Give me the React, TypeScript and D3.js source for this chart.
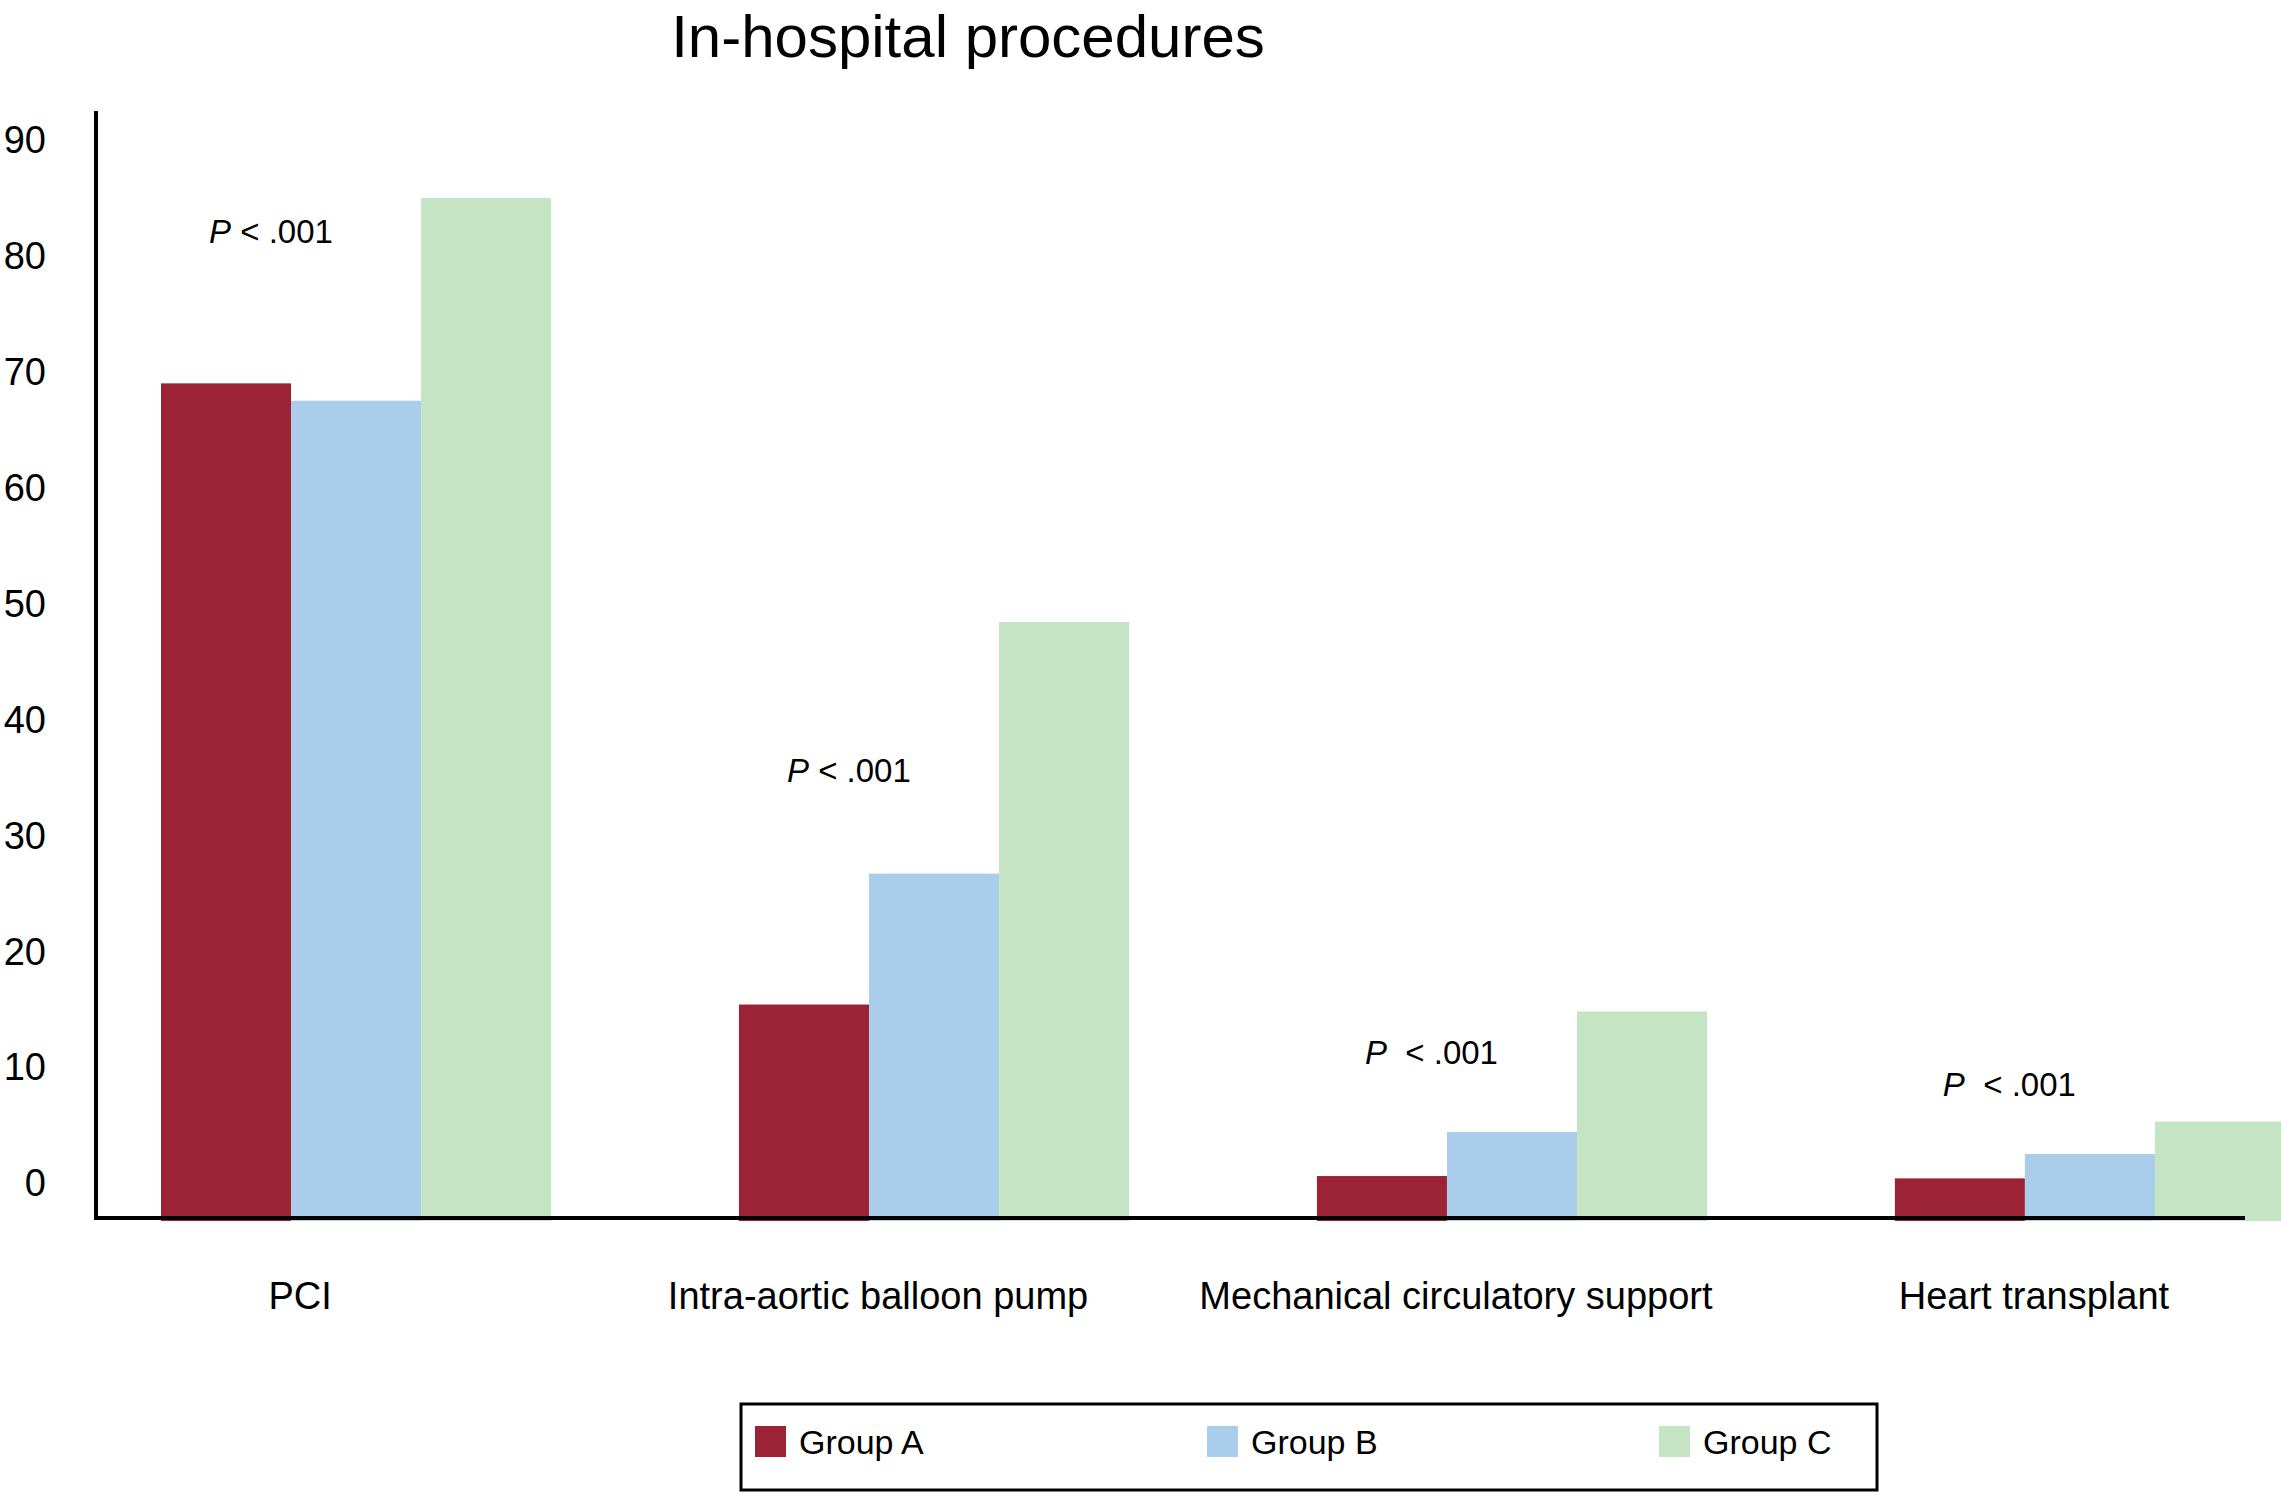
import * as d3 from "d3";

const categories = ["PCI", "Intra-aortic balloon pump", "Mechanical circulatory support", "Heart transplant"];
const groups = ["Group A", "Group B", "Group C"];
const groupA = [69.0, 15.4, 0.6, 0.4];
const groupB = [67.5, 26.7, 4.4, 2.5];
const groupC = [85.0, 48.4, 14.8, 5.3];
const yTicks = [0, 10, 20, 30, 40, 50, 60, 70, 80, 90];
const pLabels = ["P < .001", "P < .001", "P  < .001", "P  < .001"];
const pLabelLevels = [82.1, 35.6, 11.3, 8.5];

const colors = ["#9c2236", "#abcdec", "#c4e4c4"];
const font = "'Liberation Sans', Arial, Helvetica, sans-serif";

export default function App() {
  const width = 2281;
  const height = 1493;
  const axisX = 96;
  const axisTop = 111;

  const series = [groupA, groupB, groupC];

  // y scale follows the tick labels; the drawn baseline sits a bit below "0"
  const y = d3.scaleLinear().domain([0, 90]).range([1183, 140]);
  const baseY = y(0) + 35;

  const x0 = d3.scaleBand<string>()
    .domain(categories)
    .range([axisX, 2350])
    .paddingInner(0.325)
    .paddingOuter(0.1125);
  const x1 = d3.scaleBand<string>()
    .domain(groups)
    .range([0, x0.bandwidth()]);

  const legendX = d3.scaleBand<string>().domain(groups).range([755, 2111]);

  return (
    <>
      <style>{`body{margin:0}`}</style>
      <svg width={width} height={height} style={{ display: "block", background: "#fff" }} fontFamily={font}>
        <text x={968} y={57} textAnchor="middle" fontSize={60} fill="#000">
          In-hospital procedures
        </text>

        {yTicks.map(t => (
          <text key={t} x={46} y={y(t)} dy="0.35em" textAnchor="end" fontSize={38} fill="#000">
            {t}
          </text>
        ))}

        {categories.map((c, i) => (
          <g key={c} transform={`translate(${x0(c)},0)`}>
            {groups.map((g, j) => (
              <rect
                key={g}
                x={x1(g)}
                y={y(series[j][i])}
                width={x1.bandwidth()}
                height={baseY + 3 - y(series[j][i])}
                fill={colors[j]}
              />
            ))}
            <text
              x={48}
              y={y(pLabelLevels[i])}
              dy="0.35em"
              fontSize={33}
              fill="#000"
              style={{ whiteSpace: "pre" }}
            >
              <tspan fontStyle="italic">{pLabels[i].slice(0, 1)}</tspan>
              <tspan>{pLabels[i].slice(1)}</tspan>
            </text>
          </g>
        ))}

        <line x1={axisX} x2={axisX} y1={axisTop} y2={baseY + 2} stroke="#000" strokeWidth={4} />
        <line x1={axisX - 2} x2={2245} y1={baseY} y2={baseY} stroke="#000" strokeWidth={4} />

        {categories.map(c => (
          <text
            key={c}
            x={(x0(c) ?? 0) + x0.bandwidth() / 2 - 56}
            y={1296}
            dy="0.35em"
            textAnchor="middle"
            fontSize={38}
            fill="#000"
          >
            {c}
          </text>
        ))}

        <rect x={741} y={1404} width={1136} height={86} fill="none" stroke="#000" strokeWidth={3} />
        {groups.map((g, j) => (
          <g key={g} transform={`translate(${legendX(g)},1442)`}>
            <rect x={0} y={-16} width={31} height={31} fill={colors[j]} />
            <text x={44} y={0} dy="0.35em" fontSize={34} fill="#000">
              {g}
            </text>
          </g>
        ))}
      </svg>
    </>
  );
}
